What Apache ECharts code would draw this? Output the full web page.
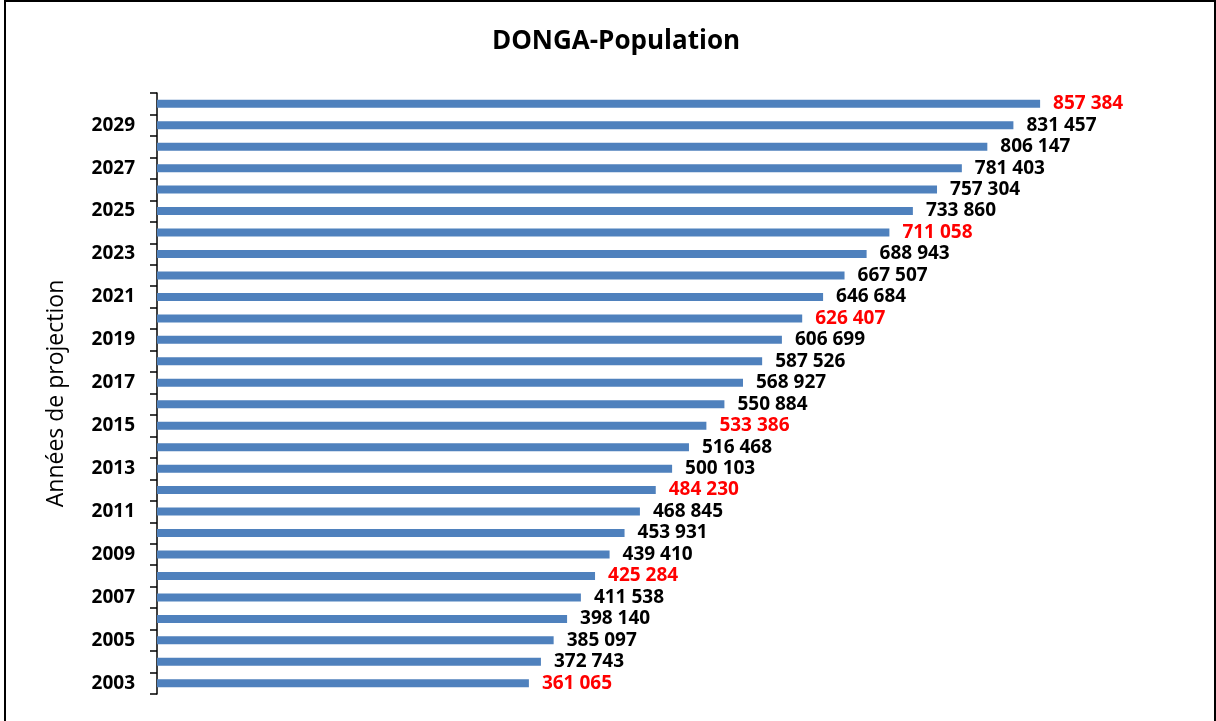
<!DOCTYPE html>
<html>
<head>
<meta charset="utf-8">
<script src="https://cdn.jsdelivr.net/npm/echarts@6/dist/echarts.min.js"></script>
<style>
  html, body { margin: 0; padding: 0; background: #fff; }
  #chart { width: 1216px; height: 721px; }
</style>
</head>
<body>
<div id="chart"></div>
<script>
// années de projection, de bas en haut
const years = [2003, 2004, 2005, 2006, 2007, 2008, 2009, 2010, 2011, 2012,
  2013, 2014, 2015, 2016, 2017, 2018, 2019, 2020, 2021, 2022,
  2023, 2024, 2025, 2026, 2027, 2028, 2029, 2030]
const population = [361065, 372743, 385097, 398140, 411538, 425284, 439410, 453931, 468845, 484230,
  500103, 516468, 533386, 550884, 568927, 587526, 606699, 626407, 646684, 667507,
  688943, 711058, 733860, 757304, 781403, 806147, 831457, 857384]
// valeurs affichées en rouge
const redYears = [2003, 2008, 2012, 2015, 2020, 2024, 2030]

const fmt = (v) => String(v).replace(/\B(?=(\d{3})+(?!\d))/g, ' ')

const chart = echarts.init(document.getElementById('chart'))

const option = {
  animation: false,
  backgroundColor: '#fff',
  textStyle: { fontFamily: 'Open Sans' },
  title: {
    text: 'DONGA-Population',
    left: 611,
    textAlign: 'center',
    top: 24,
    textStyle: { fontFamily: 'Open Sans', fontWeight: 'bold', fontSize: 26, color: '#000' }
  },
  // cadre autour du graphique
  graphic: [
    { type: 'line', shape: { x1: 5, y1: 0, x2: 5, y2: 721 }, style: { stroke: '#000', lineWidth: 2 } },
    { type: 'line', shape: { x1: 4, y1: 1, x2: 1216, y2: 1 }, style: { stroke: '#000', lineWidth: 2 } },
    { type: 'line', shape: { x1: 1215, y1: 0, x2: 1215, y2: 721 }, style: { stroke: '#000', lineWidth: 2 } }
  ],
  grid: { left: 157, top: 93, height: 601, width: 1030 },
  xAxis: {
    type: 'value',
    min: 0,
    max: 1000000,
    show: false
  },
  yAxis: {
    type: 'category',
    data: years,
    name: 'Années de projection',
    nameLocation: 'middle',
    nameGap: 89,
    nameTextStyle: { fontFamily: 'Open Sans', fontSize: 23, color: '#000' },
    axisLine: { show: true, lineStyle: { color: '#000', width: 1.5 } },
    axisTick: { show: true, interval: 0, length: 7, lineStyle: { color: '#000', width: 1.5 } },
    axisLabel: {
      interval: 1,
      margin: 22,
      fontFamily: 'Open Sans',
      fontWeight: 'bold',
      fontSize: 19,
      color: '#000'
    }
  },
  series: [
    {
      type: 'bar',
      barWidth: 8,
      itemStyle: { color: '#4F81BD' },
      label: {
        show: true,
        position: 'right',
        distance: 13,
        fontFamily: 'Open Sans',
        fontWeight: 'bold',
        fontSize: 19,
        formatter: (p) => fmt(p.value)
      },
      data: population.map((v, i) => ({
        value: v,
        label: { color: redYears.includes(years[i]) ? '#FF0000' : '#000' }
      }))
    }
  ]
}

chart.setOption(option)
</script>
</body>
</html>
